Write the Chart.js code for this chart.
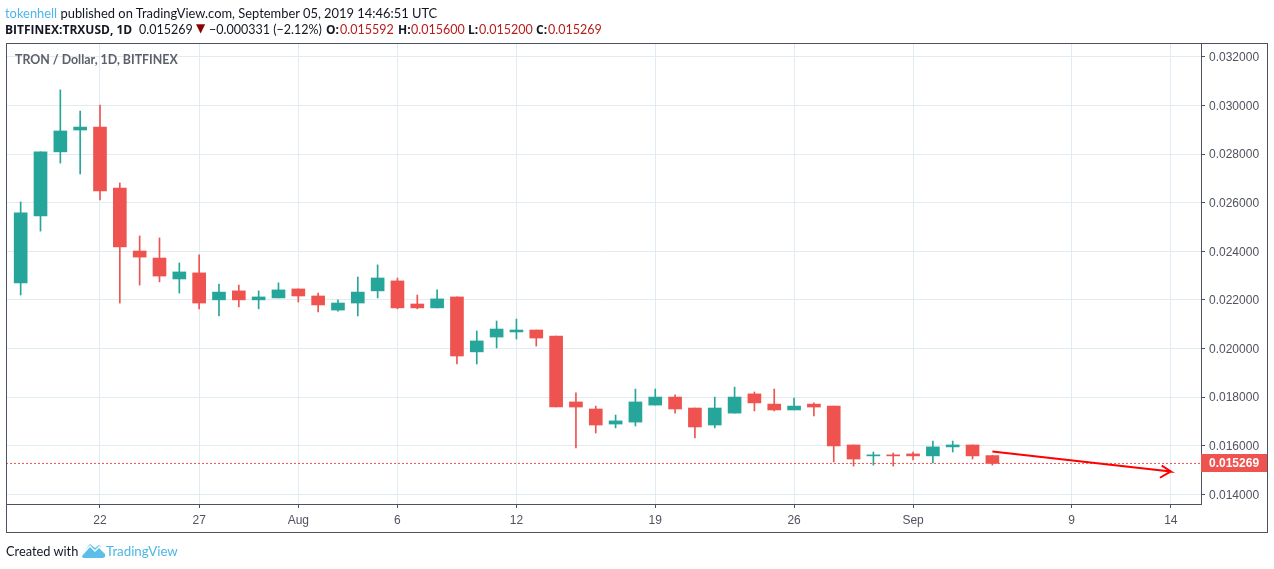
<!DOCTYPE html>
<html lang="en">
<head>
    <meta charset="UTF-8">
    <title>TRON / Dollar, 1D, BITFINEX</title>
    <script src="https://cdn.jsdelivr.net/npm/chart.js@4"></script>
    <style>
        html, body { margin: 0; padding: 0; background: #fff; width: 1274px; height: 569px; overflow: hidden; }
        #wrap { position: absolute; left: 0; top: 0; width: 1274px; height: 569px; }
        .txt { position: absolute; white-space: nowrap; font-family: Lato, sans-serif; color: #131722; font-size: 12.9px; }
        .num { font-size: 12.5px; }
        .b { font-family: "Open Sans", sans-serif; font-size: 12px; font-weight: 700; }
        .red { color: #b71c1c; }
        .blue { color: #4db6e6; }
    </style>
</head>
<body>
<div id="wrap"><canvas id="chart" width="1274" height="569"></canvas></div>
<div class="txt" style="left:5px;top:5px"><span class="blue">tokenhell</span> published on TradingView.com, September 05, 2019 14:46:51 UTC</div>
<div class="txt b" style="left:5px;top:21px">BITFINEX:TRXUSD, 1D</div>
<div class="txt num" style="left:139px;top:22px">0.015269</div>
<div class="txt" style="left:196px;top:21px;font-family:'DejaVu Sans';font-size:12px;color:#8b0000">▼</div>
<div class="txt num" style="left:209px;top:22px">−0.000331 (−2.12%)</div>
<div class="txt b" style="left:326px;top:21px">O:</div><div class="txt num red" style="left:340px;top:22px">0.015592</div>
<div class="txt b" style="left:398px;top:21px">H:</div><div class="txt num red" style="left:411px;top:22px">0.015600</div>
<div class="txt b" style="left:468px;top:21px">L:</div><div class="txt num red" style="left:479px;top:22px">0.015200</div>
<div class="txt b" style="left:536px;top:21px">C:</div><div class="txt num red" style="left:548px;top:22px">0.015269</div>
<div class="txt" style="left:15px;top:52px;font-weight:700;font-size:12.4px;color:#5d606b">TRON / Dollar, 1D, BITFINEX</div>
<div class="txt" style="left:6px;top:543px;font-size:12.8px">Created with</div>
<svg style="position:absolute;left:82px;top:543px" width="24" height="16" viewBox="0 0 24 16"><path d="M0 13 L8 4 L13 9 L17 5 L23 11 Q24 15 20 15 L3 15 Q0 15 0 13Z M8 1 L13 5 L17 2 L20 5 L17 3 L13 7 L8 2 L3 7Z" fill="#5bbfe8"/></svg>
<div class="txt blue" style="left:106px;top:543px;font-size:13.3px">TradingView</div>

<script>
    // one entry per day, first day is Jul 18
    const opens  = [.02270,.02545,.02809,.02899,.02911,.02660,.02401,.02372,.02286,.02311,.02200,.02237,.02200,.02208,.02245,.02216,.02158,.02187,.02237,.02278,.02183,.02167,.02212,.01986,.02047,.02068,.02076,.02051,.01780,.01751,.01689,.01697,.01767,.01800,.01755,.01685,.01734,.01813,.01771,.01747,.01771,.01763,.01603,.01558,.01562,.01566,.01558,.01595,.01603,.015592];
    const highs  = [.02603,.02809,.03064,.02977,.03002,.02681,.02463,.02455,.02352,.02385,.02265,.02261,.02237,.02270,.02245,.02228,.02200,.02294,.02344,.02290,.02220,.02241,.02212,.02072,.02113,.02121,.02076,.02051,.01817,.01763,.01726,.01833,.01833,.01809,.01755,.01800,.01841,.01821,.01833,.01796,.01776,.01763,.01603,.01574,.01570,.01574,.01619,.01619,.01603,.015600];
    const lows   = [.02220,.02483,.02763,.02718,.02611,.02187,.02261,.02274,.02228,.02163,.02134,.02171,.02163,.02208,.02191,.02150,.02154,.02134,.02208,.02163,.02163,.02167,.01936,.01936,.02002,.02039,.02010,.01759,.01591,.01652,.01673,.01681,.01767,.01734,.01632,.01673,.01734,.01743,.01743,.01747,.01722,.01533,.01516,.01520,.01516,.01541,.01529,.01574,.01545,.015200];
    const closes = [.02558,.02809,.02895,.02911,.02648,.02418,.02376,.02298,.02315,.02187,.02232,.02200,.02212,.02241,.02216,.02179,.02187,.02232,.02290,.02167,.02167,.02204,.01969,.02031,.02080,.02076,.02043,.01759,.01759,.01685,.01702,.01780,.01800,.01751,.01677,.01755,.01800,.01776,.01747,.01763,.01759,.01599,.01545,.01562,.01558,.01558,.01595,.01603,.01558,.015269];

    const xTickDays   = [4, 9, 14, 19, 25, 32, 39, 45, 53, 58];
    const xTickLabels = ["22", "27", "Aug", "6", "12", "19", "26", "Sep", "9", "14"];
    const yTicks      = [.014, .016, .018, .020, .022, .024, .026, .028, .030, .032];
    const lastPrice   = 0.015269;
    const xRange      = [-0.74, 59.52];
    const yRange      = [0.0136, 0.03257];

    // hand drawn arrow on the chart: shaft then the two head strokes
    const arrowDays   = [49, 58, 57.54, 58, 57.45];
    const arrowPrices = [.01576, .01494, .01518, .01494, .01468];

    const UP = "#26a69a", DOWN = "#ef5350", FRAME = "#4c525e", TEXT = "#50535e", GRID = "#e1ecf2";

    const days = opens.map((_, i) => i);
    const colors = days.map(i => closes[i] >= opens[i] ? UP : DOWN);

    const frame = {
        id: "frame",
        afterDraw(chart) {
            const c = chart.ctx, a = chart.chartArea, y = chart.scales.y;
            // last price tag
            const py = Math.round(y.getPixelForValue(lastPrice));
            c.save();
            c.fillStyle = DOWN;
            c.fillRect(a.right, py - 9, y.width, 18);
            c.fillStyle = "#fff";
            c.font = "bold 12px 'Liberation Sans'";
            c.textBaseline = "middle";
            c.fillText(lastPrice.toFixed(6), a.right + 8, py + 1);
            // outer frame
            c.strokeStyle = FRAME;
            c.lineWidth = 1;
            c.strokeRect(a.left + 0.5, a.top + 0.5, a.right + y.width - a.left, a.bottom + chart.scales.x.height - a.top);
            c.restore();
        }
    };

    new Chart(document.getElementById("chart"), {
        data: {
            datasets: [
                { type: "bar", data: days.map(i => ({ x: i, y: [lows[i], highs[i]] })), backgroundColor: colors, barThickness: 1, order: 3 },
                { type: "bar", data: days.map(i => ({ x: i, y: [opens[i], closes[i]] })), backgroundColor: colors, barThickness: 13, minBarLength: 1, order: 2 },
                { type: "line", data: xRange.map(d => ({ x: d, y: lastPrice })), borderColor: DOWN, borderWidth: 1, borderDash: [2, 2], pointRadius: 0, order: 1 },
                { type: "line", data: arrowDays.map((d, i) => ({ x: d, y: arrowPrices[i] })), borderColor: "#ff0000", borderWidth: 2, pointRadius: 0, tension: 0, order: 0 }
            ]
        },
        options: {
            responsive: false,
            animation: false,
            grouped: false,
            layout: { padding: { left: 6, top: 43, right: 7, bottom: 37 } },
            plugins: { legend: { display: false }, tooltip: { enabled: false } },
            scales: {
                x: {
                    type: "linear",
                    offset: false,
                    min: xRange[0],
                    max: xRange[1],
                    afterBuildTicks(axis) { axis.ticks = xTickDays.map(v => ({ value: v })); },
                    afterFit(axis) { axis.height = 28; },
                    grid: { color: GRID, tickColor: FRAME, tickLength: 4, offset: false },
                    border: { color: FRAME },
                    ticks: {
                        autoSkip: false,
                        maxRotation: 0,
                        color: TEXT,
                        padding: 5,
                        font: { family: "Liberation Sans", size: 12 },
                        callback: v => xTickLabels[xTickDays.indexOf(v)]
                    }
                },
                y: {
                    type: "linear",
                    position: "right",
                    min: yRange[0],
                    max: yRange[1],
                    afterBuildTicks(axis) { axis.ticks = yTicks.map(v => ({ value: v })); },
                    afterFit(axis) { axis.width = 66; },
                    grid: { color: GRID, tickColor: FRAME, tickLength: 4 },
                    border: { color: FRAME },
                    ticks: {
                        color: TEXT,
                        padding: 4,
                        labelOffset: 1,
                        font: { family: "Liberation Sans", size: 12 },
                        callback: v => v.toFixed(6)
                    }
                }
            }
        },
        plugins: [frame]
    });
</script>
</body>
</html>
